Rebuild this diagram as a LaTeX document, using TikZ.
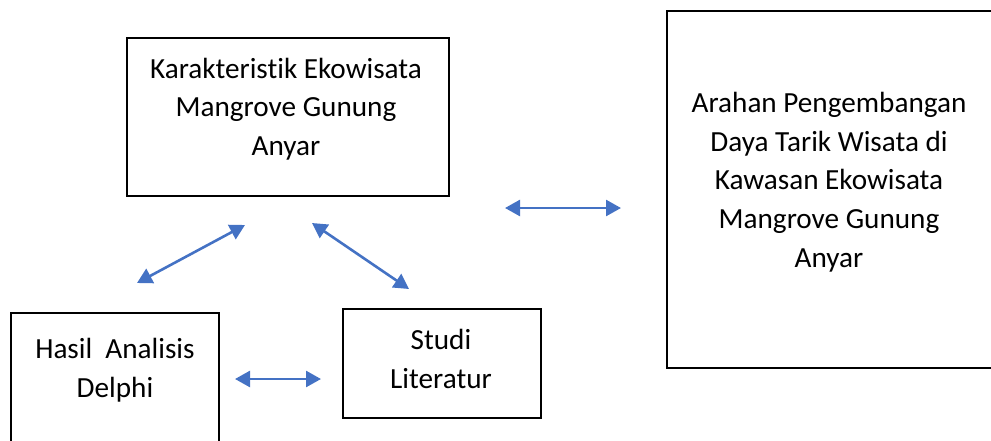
\documentclass[tikz,border=0pt]{standalone}
\usepackage{fontspec}
\setmainfont[Ligatures=NoCommon]{Carlito}
\usetikzlibrary{arrows.meta}
\definecolor{arrowblue}{HTML}{4472C4}
\begin{document}
\begin{tikzpicture}[x=1pt,y=-1pt,
  boxframe/.style={draw=black,line width=2pt,fill=none,inner sep=0pt},
  boxtext/.style={align=center,inner sep=0pt,font=\fontsize{29.2}{38.7}\selectfont},
  link/.style={draw=arrowblue,line width=2.6pt,{Triangle[length=15pt,width=16pt]}-{Triangle[length=15pt,width=16pt]}}]
\useasboundingbox (0,0) rectangle (991,440);
% boxes
\node[boxframe,minimum width=322pt,minimum height=158pt] (karbox) at (288,116.5) {};
\node[boxframe,minimum width=330pt,minimum height=357pt] (arabox) at (832,189.5) {};
\node[boxframe,minimum width=208pt,minimum height=140pt] (hasbox) at (115,383) {};
\node[boxframe,minimum width=198pt,minimum height=109pt] (stubox) at (442,363.5) {};
% texts
\node[boxtext] (kartext) at (286,109) {Karakteristik Ekowisata\\Mangrove Gunung\\Anyar};
\node[boxtext] (aratext) at (829,182) {Arahan Pengembangan\\Daya Tarik Wisata di\\Kawasan Ekowisata\\Mangrove Gunung\\Anyar};
\node[boxtext] (hastext) at (115,370) {Hasil\ \ Analisis\\Delphi};
\node[boxtext] (stutext) at (441,359) {Studi\\Literatur};
% arrow ends
\coordinate (a1s) at (137,283); \coordinate (a1e) at (245,225);
\coordinate (a2s) at (312,223); \coordinate (a2e) at (409,289);
\coordinate (a3s) at (505,208); \coordinate (a3e) at (621,208);
\coordinate (a4s) at (235,379); \coordinate (a4e) at (321,379);
\draw[link] (a1s) -- (a1e);
\draw[link] (a2s) -- (a2e);
\draw[link] (a3s) -- (a3e);
\draw[link] (a4s) -- (a4e);
\end{tikzpicture}
\end{document}
